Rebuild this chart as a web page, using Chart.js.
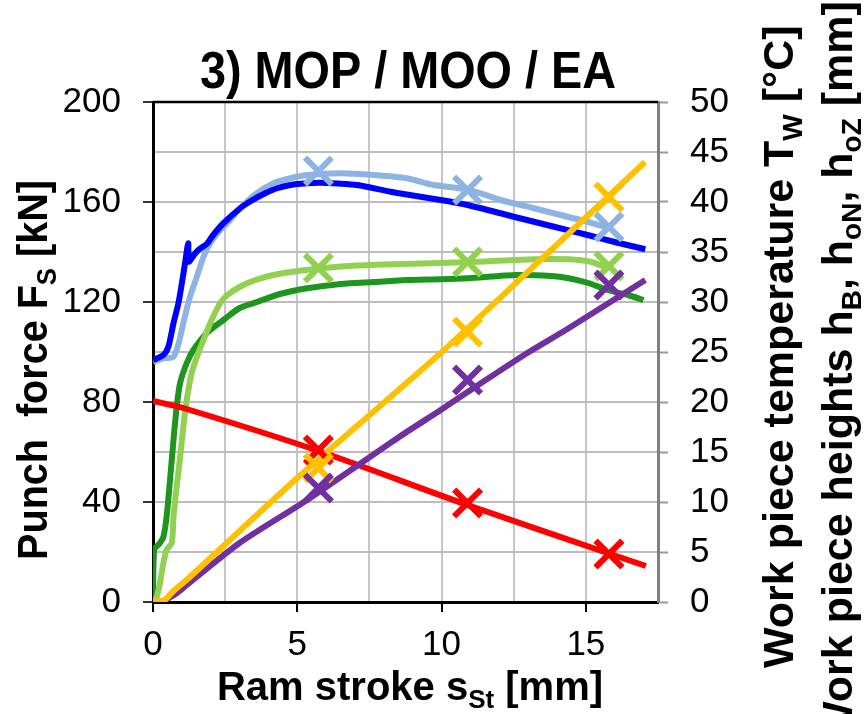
<!DOCTYPE html>
<html>
<head>
<meta charset="utf-8">
<script src="https://cdn.jsdelivr.net/npm/chart.js@4.4.1/dist/chart.umd.min.js"></script>
<style>
  html, body { margin: 0; padding: 0; background: #fff; }
  canvas { display: block; }
</style>
</head>
<body>
<canvas id="strokeChart" width="864" height="714"></canvas>
<script>
// punch force F_S [kN] over ram stroke [mm], two process variants
const blueStroke = [0, 0.36, 0.53, 0.71, 0.88, 1.0, 1.11, 1.22, 1.24, 1.4, 1.57, 1.86, 2.1, 2.44, 3.02, 3.45, 3.89, 4.3, 4.76, 5.3, 5.8, 6.4, 7.07, 8.23, 8.58, 9.97, 10.9, 12.5, 13.9, 15.06, 16.1, 17.06];
const blueForce = [96.8, 98.8, 102, 111.5, 119.5, 127.5, 135.5, 143.5, 136.1, 138.5, 140.8, 143.2, 147, 151.5, 157.5, 160.8, 163.5, 165.5, 166.8, 167.5, 167.7, 167.4, 166.8, 164.1, 163.4, 160.8, 158.8, 154.1, 150.1, 146.8, 143.7, 141.1];

const lightBlueStroke = [0, 0.36, 0.71, 0.9, 1.05, 1.28, 1.52, 1.75, 1.98, 2.33, 2.67, 3.02, 3.6, 4.18, 4.76, 5.34, 6.5, 7.65, 8.8, 9.73, 10.9, 12.05, 13.2, 14.36, 15.06, 15.8];
const lightBlueForce = [96.1, 97.5, 98.1, 104, 111.5, 122.1, 130.1, 138.1, 143.5, 148.8, 152.8, 157.5, 163.5, 167.5, 169.5, 170.8, 171.5, 170.8, 169.5, 166.8, 165, 160.8, 157.5, 154.1, 152.1, 149.6];

const darkGreenStroke = [0, 0.04, 0.24, 0.36, 0.47, 0.59, 0.71, 0.82, 0.94, 1.17, 1.4, 1.86, 2.44, 3.0, 3.6, 4.4, 5.34, 6.5, 7.65, 8.8, 9.97, 10.9, 12.6, 13.8, 14.4, 15.06, 15.75, 16.45, 17.0];
const darkGreenForce = [0, 20.8, 23.6, 26, 34, 48.8, 64.8, 78, 87.6, 95.6, 100.8, 107.6, 112.8, 117.6, 120, 123.2, 125.5, 127.2, 128, 128.8, 129.1, 129.5, 130.8, 130.4, 129.5, 127.7, 124.8, 122.8, 120.8];

const lightGreenStroke = [0, 0.13, 0.24, 0.36, 0.47, 0.65, 0.71, 0.82, 0.94, 1.05, 1.17, 1.34, 1.57, 1.75, 2.0, 2.33, 2.6, 3.0, 3.5, 4.17, 5.3, 6.5, 8.0, 9.97, 11.5, 13.2, 14.4, 15.17, 15.64, 15.8];
const lightGreenForce = [0, 2.1, 7.6, 15.6, 20.8, 23.6, 34, 46, 58, 70, 80.8, 91.6, 99.6, 104.8, 112, 119.6, 123, 126, 128.6, 130.8, 132.8, 134.2, 135, 135.6, 136.2, 137.1, 137.1, 136.1, 134.1, 133.4];

// work piece temperature and heights (right axis)
const redStroke = [0, 1.05, 5.74, 10.9, 15.75, 17.08];
const redValue = [20.1, 19.4, 15.1, 9.7, 4.9, 3.6];

const yellowStroke = [0, 0.4, 0.71, 1.2, 5.0, 9.97, 13.5, 17.05];
const yellowValue = [0, 0.2, 1.1, 2.3, 12.4, 24.9, 34.4, 44.0];

const purpleStroke = [0, 0.3, 0.47, 0.82, 1.17, 3.0, 5.34, 8.58, 9.97, 10.9, 12.97, 14.36, 17.06];
const purpleValue = [0, 0, 0.27, 0.87, 1.7, 5.9, 10.2, 16.6, 19.2, 21.0, 24.9, 27.3, 32.2];

// measured points (crosses)
const markStroke = [5.73, 10.9, 15.8];
const markLightBlue = [172.4, 164.8, 150.0];
const markLightGreen = [133.6, 136.0, 134.4];
const markRed = [15.2, 9.9, 4.8];
const markYellow = [13.4, 27.0, 40.5];
const markPurple = [11.4, 22.2, 31.7];

const fontFamily = "'Liberation Sans', Arial, sans-serif";

function pts(xs, ys) {
    return xs.map((x, i) => ({ x: x, y: ys[i] }));
}

function lineSet(xs, ys, color, axis, order) {
    return {
        data: pts(xs, ys),
        showLine: true,
        borderColor: color,
        borderWidth: 6,
        pointRadius: 0,
        tension: 0.25,
        yAxisID: axis,
        order: order
    };
}

function crossSet(ys, color, axis, order) {
    return {
        data: pts(markStroke, ys),
        showLine: false,
        pointStyle: 'crossRot',
        pointRadius: 19,
        pointBorderWidth: 6,
        borderColor: color,
        backgroundColor: color,
        yAxisID: axis,
        order: order
    };
}

// text with subscripts, e.g. F_S, s_St; sx squeezes along the writing direction
function drawRich(ctx, parts, x, y, size, align, sx) {
    sx = sx || 1;
    const big = 'bold ' + size + 'px ' + fontFamily;
    const small = 'bold ' + Math.round(size * 0.66) + 'px ' + fontFamily;
    let total = 0;
    parts.forEach(p => {
        ctx.font = p.sub ? small : big;
        total += ctx.measureText(p.t).width;
    });
    ctx.save();
    ctx.translate(x, y);
    ctx.scale(sx, 1);
    let cx = align === 'center' ? -total / 2 : 0;
    ctx.textAlign = 'left';
    ctx.textBaseline = 'alphabetic';
    parts.forEach(p => {
        ctx.font = p.sub ? small : big;
        ctx.fillText(p.t, cx, p.sub ? size * 0.2 : 0);
        cx += ctx.measureText(p.t).width;
    });
    ctx.restore();
}

const titlesPlugin = {
    id: 'titles',
    afterDraw(chart) {
        const ctx = chart.ctx;
        const area = chart.chartArea;
        ctx.save();
        // frame top edge
        ctx.strokeStyle = '#000';
        ctx.lineWidth = 2.5;
        ctx.beginPath();
        ctx.moveTo(area.left, area.top);
        ctx.lineTo(area.right, area.top);
        ctx.stroke();

        ctx.fillStyle = '#000';
        drawRich(ctx, [{ t: '3) MOP / MOO / EA' }], 408, 88, 52, 'center', 0.9);
        drawRich(ctx, [{ t: 'Ram stroke s' }, { t: 'St', sub: true }, { t: ' [mm]' }], 410, 700, 40, 'center');

        ctx.save();
        ctx.translate(47, 370);
        ctx.rotate(-Math.PI / 2);
        drawRich(ctx, [{ t: 'Punch  force F' }, { t: 'S', sub: true }, { t: ' [kN]' }], 0, 0, 43, 'center', 0.92);
        ctx.restore();

        ctx.save();
        ctx.translate(793, 668);
        ctx.rotate(-Math.PI / 2);
        drawRich(ctx, [{ t: 'Work piece temperature T' }, { t: 'W', sub: true }, { t: ' [°C]' }], 0, 0, 43, 'left');
        ctx.restore();

        ctx.save();
        ctx.translate(852, 742);
        ctx.rotate(-Math.PI / 2);
        drawRich(ctx, [{ t: 'Work piece heights h' }, { t: 'B', sub: true }, { t: ', h' }, { t: 'oN', sub: true }, { t: ', h' }, { t: 'oZ', sub: true }, { t: ' [mm]' }], 0, 0, 43, 'left');
        ctx.restore();
        ctx.restore();
    }
};

const tickFont = { family: fontFamily, size: 35 };

new Chart(document.getElementById('strokeChart').getContext('2d'), {
    type: 'scatter',
    data: {
        datasets: [
            lineSet(lightBlueStroke, lightBlueForce, '#8DB3E2', 'y', 20),
            lineSet(blueStroke, blueForce, '#0000FF', 'y', 19),
            lineSet(darkGreenStroke, darkGreenForce, '#1E951E', 'y', 18),
            lineSet(lightGreenStroke, lightGreenForce, '#92D050', 'y', 17),
            lineSet(redStroke, redValue, '#FF0000', 'y2', 16),
            lineSet(purpleStroke, purpleValue, '#7030A0', 'y2', 15),
            lineSet(yellowStroke, yellowValue, '#FFC000', 'y2', 14),
            crossSet(markLightBlue, '#8DB3E2', 'y', 9),
            crossSet(markLightGreen, '#92D050', 'y', 8),
            crossSet(markRed, '#FF0000', 'y2', 7),
            crossSet(markYellow, '#FFC000', 'y2', 6),
            crossSet(markPurple, '#7030A0', 'y2', 5)
        ]
    },
    options: {
        responsive: false,
        animation: false,
        layout: { padding: { top: 102, left: 0, right: 0, bottom: 0 } },
        plugins: {
            legend: { display: false },
            title: { display: false },
            tooltip: { enabled: false }
        },
        scales: {
            x: {
                type: 'linear',
                min: 0,
                max: 17.5,
                afterFit: s => { s.height = 112; },
                ticks: {
                    stepSize: 2.5,
                    color: '#000',
                    font: tickFont,
                    padding: 12,
                    maxRotation: 0,
                    callback: v => (v % 5 === 0 ? v : '')
                },
                grid: {
                    color: '#c6c6c6',
                    lineWidth: 2,
                    tickLength: 10,
                    tickWidth: 2,
                    tickColor: c => (c.tick && c.tick.value % 5 === 0 ? '#000' : 'rgba(0,0,0,0)')
                },
                border: { color: '#000', width: 3 }
            },
            y: {
                position: 'left',
                min: 0,
                max: 200,
                afterFit: s => { s.width = 153; },
                ticks: {
                    stepSize: 20,
                    color: '#000',
                    font: tickFont,
                    padding: 22,
                    callback: v => (v % 40 === 0 ? v : '')
                },
                grid: {
                    color: '#bcbcbc',
                    lineWidth: 2,
                    tickLength: 10,
                    tickWidth: 2,
                    tickColor: c => (c.tick && c.tick.value % 40 === 0 ? '#333' : 'rgba(0,0,0,0)')
                },
                border: { color: '#000', width: 3 }
            },
            y2: {
                position: 'right',
                min: 0,
                max: 50,
                afterFit: s => { s.width = 206; },
                ticks: {
                    stepSize: 5,
                    color: '#000',
                    font: tickFont,
                    padding: 22
                },
                grid: {
                    drawOnChartArea: false,
                    tickLength: 10,
                    tickWidth: 2,
                    tickColor: '#999'
                },
                border: { color: '#808080', width: 3 }
            }
        }
    },
    plugins: [titlesPlugin]
});
</script>
</body>
</html>
